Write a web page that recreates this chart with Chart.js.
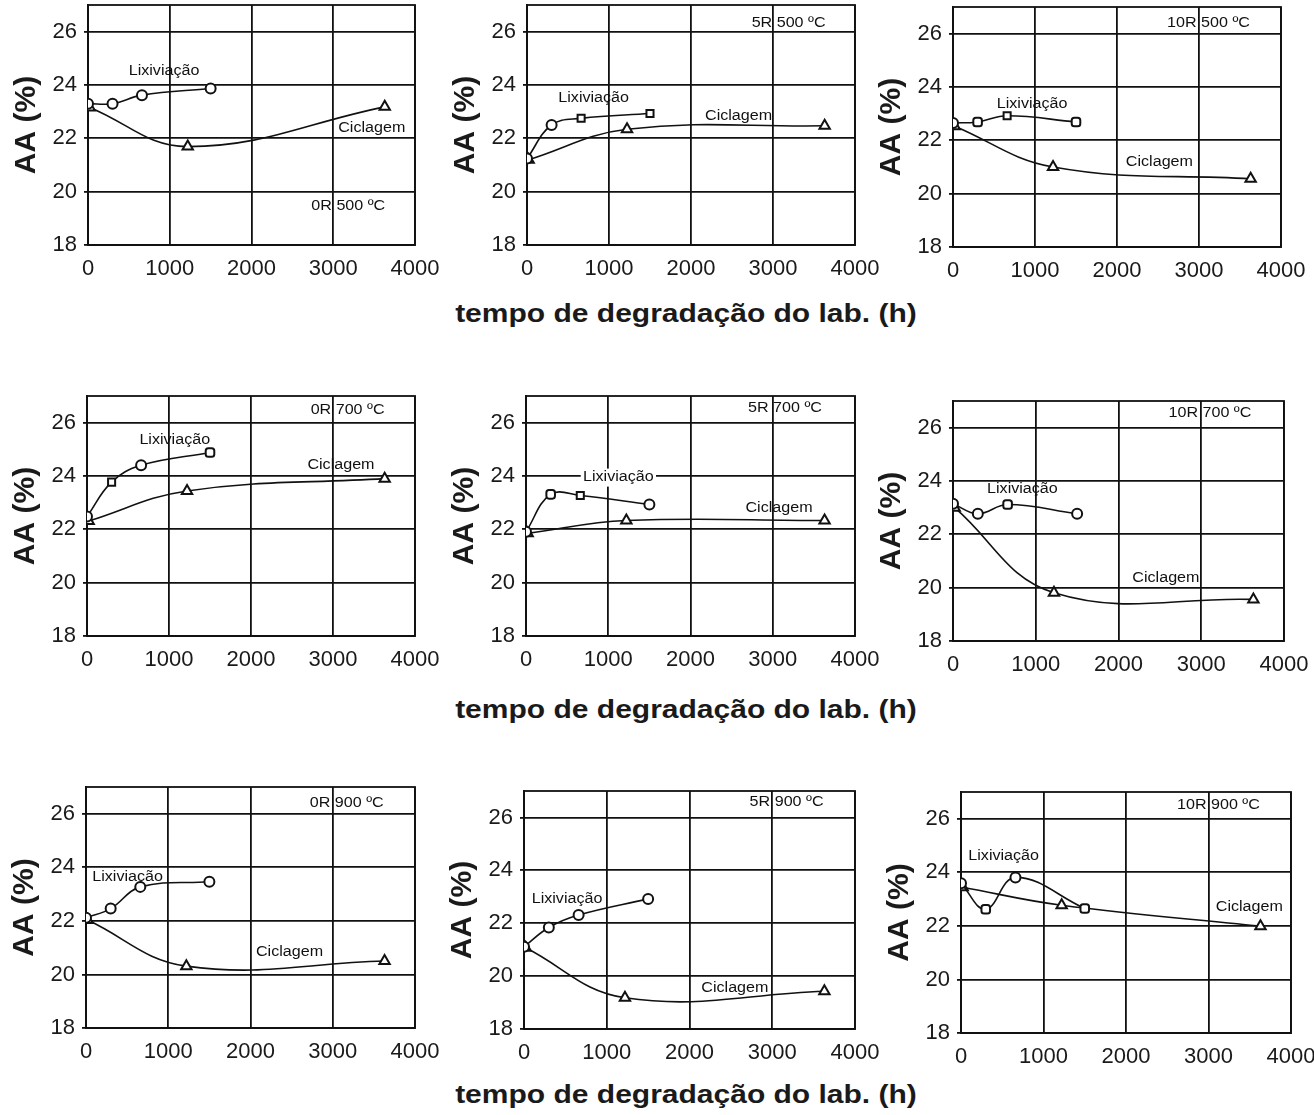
<!DOCTYPE html>
<html>
<head>
<meta charset="utf-8">
<script src="https://cdn.jsdelivr.net/npm/chart.js@4.4.1/dist/chart.umd.min.js"></script>
<style>
  body { margin: 0; background: #fff; width: 1314px; height: 1115px; position: relative; overflow: hidden; }
  canvas { position: absolute; }
  .xtitle {
    position: absolute; left: 0; width: 1372px; text-align: center;
    font: bold 25px "Liberation Sans", Arial, sans-serif; color: #1a1a1a;
    line-height: 30px; transform: scaleX(1.2); transform-origin: 686px 50%;
  }
</style>
</head>
<body>
<div class="xtitle" style="top:298px">tempo de degradação do lab. (h)</div>
<div class="xtitle" style="top:694px">tempo de degradação do lab. (h)</div>
<div class="xtitle" style="top:1079px">tempo de degradação do lab. (h)</div>
<script>
// axis ticks
const xTicks = [0, 1000, 2000, 3000, 4000];
const yTicks = [18, 20, 22, 24, 26];

// sampling times (h)
const lixHours = [0, 300, 660, 1500];
const cicHours = [20, 1220, 3630];

// panel names, row by row
const panelTags = ["0R 500 ºC", "5R 500 ºC", "10R 500 ºC",
                   "0R 700 ºC", "5R 700 ºC", "10R 700 ºC",
                   "0R 900 ºC", "5R 900 ºC", "10R 900 ºC"];

// AA (%) - Lixiviação
const lixValues = [
  [23.3, 23.3, 23.62, 23.87],
  [21.24, 22.5, 22.75, 22.93],
  [22.65, 22.69, 22.92, 22.69],
  [22.48, 23.77, 24.4, 24.88],
  [21.91, 23.31, 23.27, 22.93],
  [23.15, 22.77, 23.12, 22.77],
  [22.12, 22.46, 23.27, 23.46],
  [21.11, 21.84, 22.31, 22.92],
  [23.59, 22.62, 23.81, 22.65],
];

// AA (%) - Ciclagem
const cicValues = [
  [23.16, 21.69, 23.18],
  [21.2, 22.34, 22.47],
  [22.53, 21.0, 20.56],
  [22.31, 23.44, 23.9],
  [21.85, 22.33, 22.33],
  [23.0, 19.81, 19.56],
  [22.03, 20.31, 20.5],
  [21.07, 19.18, 19.43],
  [23.44, 22.77, 21.99],
];

// marker shapes used for the Lixiviação points
const lixMarkers = [
  ['circle', 'circle', 'circle', 'circle'],
  ['circle', 'circle', 'rect', 'rect'],
  ['circle', 'rectRounded', 'rect', 'rectRounded'],
  ['circle', 'rect', 'circle', 'rectRounded'],
  ['circle', 'rectRounded', 'rect', 'circle'],
  ['circle', 'circle', 'rectRounded', 'circle'],
  ['circle', 'circle', 'circle', 'circle'],
  ['circle', 'circle', 'circle', 'circle'],
  ['circle', 'rectRounded', 'circle', 'rectRounded'],
];

// where the in-plot labels sit (data coords): Lixiviação, Ciclagem, tag
const labelSpots = [
  [[930, 24.53], [3471, 22.4], [3184, 19.46]],
  [[813, 23.5], [2580, 22.84], [3190, 26.31]],
  [[965, 23.37], [2517, 21.17], [3116, 26.41]],
  [[1070, 25.34], [3097, 24.4], [3178, 26.48]],
  [[1123, 23.94], [3076, 22.79], [3149, 26.56]],
  [[839, 23.71], [2573, 20.35], [3105, 26.54]],
  [[506, 23.65], [2474, 20.84], [3170, 26.41]],
  [[520, 22.92], [2548, 19.56], [3173, 26.59]],
  [[517, 24.59], [3495, 22.71], [3120, 26.5]],
];

// plot box of each panel on the page: left, right, y of 26, y of 18
const boxes = [
  [88, 415, 32, 245], [527, 855, 32, 245], [953, 1281, 34, 247],
  [87, 415, 423, 636], [526, 855, 423, 636], [953, 1284, 428, 641],
  [86, 415, 814, 1028], [524, 855, 817, 1029], [961, 1291, 819, 1033],
];

const FONT = '"Liberation Sans", Arial, sans-serif';
const INK = '#111';
const Y_AXIS_W = 84;

// frame round the plot + the little text labels inside it
const panelDecor = {
  id: 'panelDecor',
  beforeDatasetsDraw(chart, args, opts) {
    const { ctx, chartArea: a, scales: { x, y } } = chart;
    ctx.save();
    ctx.strokeStyle = INK;
    ctx.lineWidth = 1.8;
    ctx.strokeRect(a.left, a.top, a.right - a.left, a.bottom - a.top);

    ctx.font = '14px ' + FONT;
    ctx.textAlign = 'center';
    ctx.textBaseline = 'middle';
    opts.notes.forEach(n => {
      const px = x.getPixelForValue(n.x);
      const py = y.getPixelForValue(n.y);
      ctx.save();
      ctx.translate(px, py);
      ctx.scale(1.15, 1);
      if (n.bg) {
        const w = ctx.measureText(n.text).width;
        ctx.fillStyle = '#fff';
        ctx.fillRect(-w / 2 - 2, -9, w + 4, 18);
      }
      ctx.fillStyle = INK;
      ctx.fillText(n.text, 0, 0);
      ctx.restore();
    });
    ctx.restore();
  }
};

// keep Chart.js from adding label overflow padding, the canvas has room already
function noPad(s) {
  s.paddingTop = 0;
  s.paddingBottom = 0;
  s.paddingLeft = 0;
  s.paddingRight = 0;
}

function makePanel(i) {
  const [l, r, y26, y18] = boxes[i];
  const top = y18 - (y18 - y26) * 9 / 8;
  const padTop = 14, padRight = 30, xAxisH = 40;
  const canvas = document.createElement('canvas');
  const cl = l - Y_AXIS_W, ct = Math.round(top) - padTop;
  canvas.width = r + padRight - cl;
  canvas.height = y18 + xAxisH - ct;
  canvas.style.left = cl + 'px';
  canvas.style.top = ct + 'px';
  document.body.appendChild(canvas);

  const lixData = lixHours.map((h, k) => ({ x: h, y: lixValues[i][k] }));
  const cicData = cicHours.map((h, k) => ({ x: h, y: cicValues[i][k] }));
  const spots = labelSpots[i];
  const notes = [
    { text: 'Lixiviação', x: spots[0][0], y: spots[0][1], bg: i === 4 },
    { text: 'Ciclagem', x: spots[1][0], y: spots[1][1] },
    { text: panelTags[i], x: spots[2][0], y: spots[2][1] },
  ];

  return new Chart(canvas.getContext('2d'), {
    type: 'scatter',
    data: {
      datasets: [
        {
          label: 'Lixiviação',
          data: lixData,
          showLine: true,
          tension: 0.4,
          borderColor: INK,
          borderWidth: 1.6,
          pointStyle: lixMarkers[i],
          pointRadius: 5,
          pointBorderWidth: 2,
          pointBorderColor: INK,
          pointBackgroundColor: '#fff',
        },
        {
          label: 'Ciclagem',
          data: cicData,
          showLine: true,
          tension: 0.4,
          borderColor: INK,
          borderWidth: 1.6,
          pointStyle: 'triangle',
          pointRadius: 6,
          pointBorderWidth: 2,
          pointBorderColor: INK,
          pointBackgroundColor: '#fff',
        },
      ],
    },
    options: {
      responsive: false,
      animation: false,
      layout: { padding: { top: padTop, right: padRight, left: 0, bottom: 0 } },
      plugins: {
        legend: { display: false },
        tooltip: { enabled: false },
        panelDecor: { notes: notes },
      },
      scales: {
        x: {
          type: 'linear',
          min: 0,
          max: 4000,
          afterBuildTicks: s => { s.ticks = xTicks.map(v => ({ value: v })); },
          afterFit: s => { s.height = xAxisH; noPad(s); },
          grid: { color: INK, lineWidth: 1.8, drawTicks: false },
          border: { color: INK, width: 1.8 },
          ticks: {
            color: '#1a1a1a', font: { family: FONT, size: 22 }, padding: 11, maxRotation: 0,
            callback: v => String(v),
          },
        },
        y: {
          min: 18,
          max: 27,
          afterBuildTicks: s => { s.ticks = yTicks.map(v => ({ value: v })); },
          afterFit: s => { s.width = Y_AXIS_W; noPad(s); },
          grid: { color: INK, lineWidth: 1.8, tickLength: 4 },
          border: { color: INK, width: 1.8 },
          ticks: { color: '#1a1a1a', font: { family: FONT, size: 22 }, padding: 7, callback: v => String(v) },
          title: {
            display: true,
            text: 'AA (%)',
            color: '#1a1a1a',
            font: { family: FONT, size: 30, weight: 'bold' },
            padding: { top: 5, bottom: 0 },
          },
        },
      },
    },
    plugins: [panelDecor],
  });
}

for (let i = 0; i < 9; i++) {
  makePanel(i);
}
</script>
</body>
</html>
